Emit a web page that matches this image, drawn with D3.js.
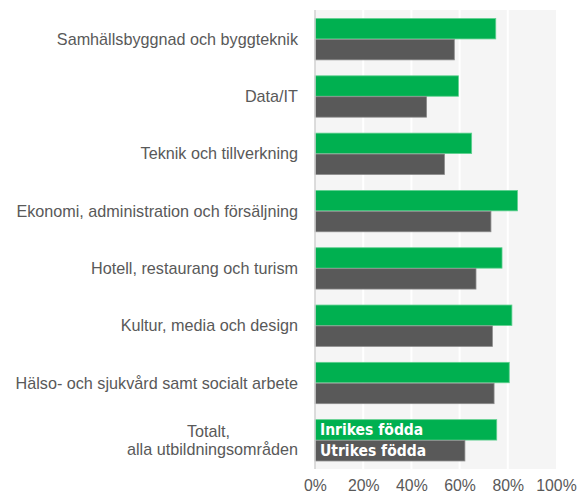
<!DOCTYPE html>
<html>
<head>
<meta charset="utf-8">
<script src="https://cdn.jsdelivr.net/npm/d3@7"></script>
<style>
  body { margin: 0; background: #fff; }
  text { font-family: "Liberation Sans", Arial, sans-serif; }
</style>
</head>
<body>
<div id="chart"></div>
<script>
// --- data ---
const categories = [
    "Samhällsbyggnad och byggteknik",
    "Data/IT",
    "Teknik och tillverkning",
    "Ekonomi, administration och försäljning",
    "Hotell, restaurang och turism",
    "Kultur, media och design",
    "Hälso- och sjukvård samt socialt arbete",
    "Totalt,\nalla utbildningsområden"
];
const inrikes = [75, 59.5, 65, 84, 77.6, 81.7, 80.6, 75.4];
const utrikes = [57.8, 46.3, 53.7, 73, 66.8, 73.6, 74.3, 62.2];
const ticks = [0, 20, 40, 60, 80, 100];
const seriesNames = ["Inrikes födda", "Utrikes födda"];

const W = 580, H = 498;
const margin = { top: 10, right: 24, bottom: 29, left: 315 };
const width = W - margin.left - margin.right,
    height = H - margin.top - margin.bottom;

const svg = d3.select("#chart")
    .append("svg")
    .attr("width", W)
    .attr("height", H)
    .append("g")
    .attr("transform", `translate(${margin.left},${margin.top})`);

const x = d3.scaleLinear().domain([0, 100]).range([0, width]);
const y = d3.scaleBand().domain(categories).range([0, height]).paddingInner(0.27).paddingOuter(0.14);
const sub = d3.scaleBand().domain([0, 1]).range([0, y.bandwidth()]);

// plot background
svg.append("rect")
    .attr("width", width)
    .attr("height", height)
    .attr("fill", "#f5f5f5");

// gridlines
svg.selectAll(".grid")
    .data(ticks.slice(1, -1))
    .enter()
    .append("line")
    .attr("x1", d => x(d))
    .attr("x2", d => x(d))
    .attr("y1", 0)
    .attr("y2", height)
    .attr("stroke", "#fff")
    .attr("stroke-width", 2);

// bars
const rows = categories.map((c, i) => ({ cat: c, vals: [inrikes[i], utrikes[i]] }));
const colors = ["#00b050", "#595959"];
const strokes = ["#5fd08f", "#8a8a8a"];

const groups = svg.selectAll(".row")
    .data(rows)
    .enter()
    .append("g")
    .attr("transform", d => `translate(0,${y(d.cat)})`);

groups.selectAll("rect")
    .data(d => d.vals)
    .enter()
    .append("rect")
    .attr("x", x(0))
    .attr("y", (d, i) => sub(i) + 0.5)
    .attr("width", d => x(d) - x(0))
    .attr("height", sub.bandwidth() - 0.5)
    .attr("fill", (d, i) => colors[i])
    .attr("stroke", (d, i) => strokes[i])
    .attr("stroke-width", 0.8);

// legend labels inside the last group
const last = categories[categories.length - 1];
svg.selectAll(".legend")
    .data(seriesNames)
    .enter()
    .append("text")
    .attr("x", 5)
    .attr("y", (d, i) => y(last) + sub(i) + sub.bandwidth() / 2)
    .attr("dy", "0.36em")
    .attr("fill", "#fff")
    .attr("font-weight", "bold")
    .attr("font-size", 15.5)
    .style("font-family", "'DejaVu Sans Condensed', 'Liberation Sans', sans-serif")
    .text(d => d);

// left axis line
svg.append("line")
    .attr("x1", 0).attr("x2", 0)
    .attr("y1", 0).attr("y2", height)
    .attr("stroke", "#d0d0d0")
    .attr("stroke-width", 1.5);

// category labels
categories.forEach(c => {
    const lines = c.split("\n");
    const cy = y(c) + y.bandwidth() / 2;
    const t = svg.append("text")
        .attr("fill", "#595959")
        .attr("font-size", 16.2);
    if (lines.length === 1) {
        t.attr("x", -17).attr("y", cy).attr("dy", "0.36em")
            .attr("text-anchor", "end").text(c);
    } else {
        const l2 = t.append("tspan").attr("x", -17).attr("y", cy + 9).attr("dy", "0.36em")
            .attr("text-anchor", "end").text(lines[1]);
        const w2 = l2.node().getComputedTextLength();
        t.append("tspan").attr("x", -17 - w2 / 2 - 4).attr("y", cy - 9).attr("dy", "0.36em")
            .attr("text-anchor", "middle").text(lines[0]);
    }
});

// x axis
const xAxis = d3.axisBottom(x).tickValues(ticks).tickFormat(d => `${d}%`).tickSize(0).tickPadding(11);
svg.append("g")
    .attr("transform", `translate(0,${height})`)
    .call(xAxis)
    .call(g => g.select(".domain").remove())
    .call(g => g.selectAll("text")
        .attr("fill", "#595959")
        .attr("font-size", 15.8)
        .style("font-family", "'Liberation Sans', Arial, sans-serif"));
</script>
</body>
</html>
